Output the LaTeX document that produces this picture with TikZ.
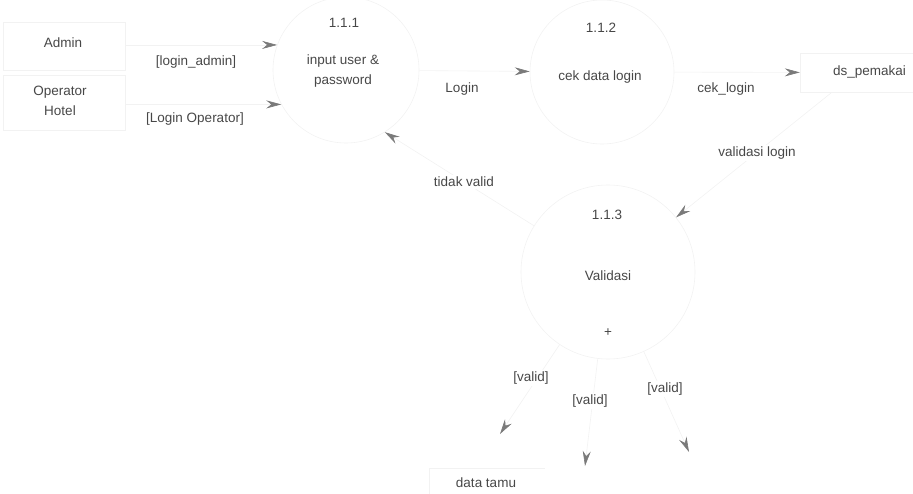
\documentclass[tikz,border=0pt]{standalone}
\usepackage{fontspec}
\setmainfont{Liberation Sans}
\usetikzlibrary{arrows.meta}
\begin{document}
\begin{tikzpicture}[x=1pt,y=-1pt,
  txt/.style={text=black!72,font=\fontsize{13.5}{20}\selectfont,inner sep=1pt},
  lbl/.style={txt,fill=white,inner sep=2pt},
  faint/.style={draw=black!5,line width=0.6pt},
  entity/.style={faint,rectangle,inner sep=0pt},
  proc/.style={faint,circle,inner sep=0pt},
  flow/.style={draw=black!5,line width=0.6pt,-{Stealth[length=15pt,width=8pt,inset=5pt,color=black!52]}},
]
\useasboundingbox (0,0) rectangle (913,493);

% external entities
\node[entity,minimum width=122pt,minimum height=48pt] (admin) at (64,46) {};
\node[txt] (admint) at (63,43) {Admin};
\node[entity,minimum width=122pt,minimum height=55pt] (oper) at (64,102.5) {};
\node[txt,align=center] (opert) at (60,101) {Operator\\Hotel};

% processes
\node[proc,minimum size=146pt] (p111) at (346,70) {};
\node[txt] (p111n) at (344,23) {1.1.1};
\node[txt,align=center] (p111t) at (343,71) {input user \&\\password};

\node[proc,minimum size=144pt] (p112) at (602,72) {};
\node[txt] (p112n) at (601,28) {1.1.2};
\node[txt] (p112t) at (600,77) {cek data login};

\node[proc,minimum size=174pt] (p113) at (608,272) {};
\node[txt] (p113n) at (607,215) {1.1.3};
\node[txt] (p113t) at (608,276) {Validasi};
\node[txt] (p113p) at (608,333) {+};

% data stores
\node[inner sep=0pt,minimum width=113pt,minimum height=39pt] (ds) at (856.5,72.5) {};
\draw[faint] (ds.north east) -- (ds.north west) -- (ds.south west) -- (ds.south east);
\node[txt,anchor=west] (dst) at (832,72) {ds\_pemakai};

\node[inner sep=0pt,minimum width=115pt,minimum height=40pt] (dt) at (487,488) {};
\draw[faint] (dt.north east) -- (dt.north west) -- (dt.south west);
\node[txt] (dtt) at (486,483) {data tamu};

% free ends
\coordinate (t1) at (500,434);
\coordinate (t2) at (585,466);
\coordinate (t3) at (689,452);

% flows
\draw[flow] (admin.east |- p111.160) -- (p111.160);
\node[txt] (l1) at (196,62) {[login\_admin]};
\draw[flow] (oper.east |- p111.208) -- (p111.208);
\node[txt] (l2) at (195,119) {[Login Operator]};

\draw[flow] (p111) -- (p112);
\node[txt] (l3) at (462,89) {Login};

\draw[flow] (p112) -- (ds);
\node[txt] (l4) at (726,89) {cek\_login};

\draw[flow] (ds) -- (p113);
\node[lbl] (l5) at (757,153) {validasi login};

\draw[flow] (p113.148) -- (p111.-58);
\node[lbl] (l6) at (464,182) {tidak valid};

\draw[flow] (p113) -- (t1);
\node[lbl] (l7) at (531,378) {[valid]};
\draw[flow] (p113) -- (t2);
\node[lbl] (l8) at (590,401) {[valid]};
\draw[flow] (p113) -- (t3);
\node[lbl] (l9) at (665,389) {[valid]};
\end{tikzpicture}
\end{document}
